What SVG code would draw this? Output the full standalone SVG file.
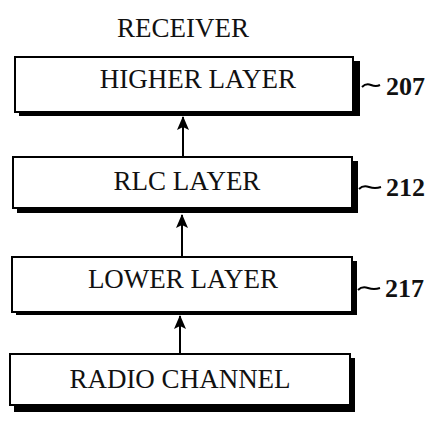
<svg xmlns="http://www.w3.org/2000/svg" width="433" height="422" viewBox="0 0 433 422">
<defs>
<style>
.box{fill:#fff;stroke:#000;stroke-width:2}
.shadow{fill:#000}
.t{font-family:"Liberation Serif","Times New Roman",serif;font-size:27px;fill:#111;text-anchor:middle}
.ref{font-family:"Liberation Serif","Times New Roman",serif;font-size:26px;font-weight:bold;fill:#111}
.lead{fill:none;stroke:#000;stroke-width:2}
.conn{stroke:#000;stroke-width:2;fill:none}
</style>
<marker id="ah" markerWidth="14" markerHeight="12" refX="13" refY="6" orient="auto" markerUnits="userSpaceOnUse" viewBox="0 0 14 12">
<path d="M14 6 L0 0 L3 6 L0 12 Z" fill="#000"/>
</marker>
</defs>
<rect width="433" height="422" fill="#fff"/>
<text class="t" x="183" y="37">RECEIVER</text>
<g id="higher">
<rect class="shadow" x="19" y="61" width="341" height="55"/>
<rect class="box" x="15" y="57" width="338" height="55"/>
<text class="t" x="198" y="88">HIGHER LAYER</text>
<path class="lead" d="M362 87 q4 -4 9 -2 t9 0"/>
<text class="ref" x="386" y="95">207</text>
</g>
<g id="rlc">
<rect class="shadow" x="17" y="161" width="341" height="52"/>
<rect class="box" x="13" y="157" width="339" height="51"/>
<text class="t" x="187" y="190">RLC LAYER</text>
<path class="lead" d="M359 189 q4 -4 10 -2 t12 0"/>
<text class="ref" x="386" y="196">212</text>
</g>
<g id="lower">
<rect class="shadow" x="16" y="261" width="341" height="54"/>
<rect class="box" x="12" y="257" width="340" height="55"/>
<text class="t" x="183" y="288">LOWER LAYER</text>
<path class="lead" d="M358 290 q4 -4 10 -2 t12 0"/>
<text class="ref" x="385" y="297">217</text>
</g>
<g id="radio">
<rect class="shadow" x="14" y="358" width="341" height="54"/>
<rect class="box" x="10" y="354" width="340" height="51"/>
<text class="t" x="180" y="388">RADIO CHANNEL</text>
</g>
<g id="connectors">
<line class="conn" x1="183" y1="157" x2="183" y2="117" marker-end="url(#ah)"/>
<line class="conn" x1="182" y1="257" x2="182" y2="215" marker-end="url(#ah)"/>
<line class="conn" x1="180" y1="354" x2="180" y2="316" marker-end="url(#ah)"/>
</g>
</svg>
